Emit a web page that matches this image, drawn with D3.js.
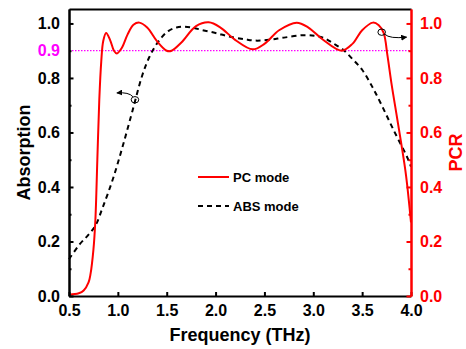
<!DOCTYPE html>
<html>
<head>
<meta charset="utf-8">
<script src="https://cdn.jsdelivr.net/npm/d3@7"></script>
<style>
body { margin: 0; background: #fff; }
text { font-family: "Liberation Sans", Arial, sans-serif; font-weight: bold; }
</style>
</head>
<body>
<script>
// PC mode (PCR, right axis)
var pcFreq = [0.5, 0.6, 0.65, 0.7, 0.72, 0.75, 0.77, 0.79, 0.81, 0.83, 0.85, 0.88, 0.92, 0.96, 0.99, 1.04, 1.1, 1.16, 1.22, 1.3, 1.4, 1.5, 1.55, 1.65, 1.8, 1.93, 2.05, 2.2, 2.38, 2.5, 2.65, 2.83, 2.95, 3.1, 3.29, 3.4, 3.5, 3.61, 3.67, 3.72, 3.76, 3.8, 3.85, 3.9, 3.95, 4.0];
var pcVal  = [0.005, 0.01, 0.02, 0.05, 0.08, 0.17, 0.28, 0.5, 0.72, 0.86, 0.935, 0.965, 0.94, 0.9, 0.89, 0.91, 0.96, 0.995, 1.003, 0.985, 0.935, 0.9, 0.9, 0.93, 0.99, 1.004, 0.985, 0.94, 0.905, 0.925, 0.975, 1.003, 0.985, 0.94, 0.9, 0.925, 0.975, 1.003, 0.993, 0.965, 0.88, 0.78, 0.67, 0.56, 0.44, 0.27];
// ABS mode (absorption, left axis)
var absFreq = [0.5, 0.61, 0.7, 0.77, 0.85, 0.95, 1.05, 1.15, 1.25, 1.32, 1.38, 1.45, 1.52, 1.6, 1.68, 1.78, 1.86, 2.0, 2.14, 2.3, 2.41, 2.55, 2.7, 2.9, 3.03, 3.12, 3.2, 3.3, 3.4, 3.5, 3.6, 3.7, 3.82, 3.96, 4.0];
var absVal  = [0.135, 0.19, 0.225, 0.258, 0.33, 0.43, 0.55, 0.68, 0.81, 0.875, 0.915, 0.95, 0.973, 0.985, 0.988, 0.983, 0.976, 0.965, 0.952, 0.942, 0.937, 0.94, 0.948, 0.957, 0.954, 0.945, 0.928, 0.905, 0.87, 0.83, 0.77, 0.70, 0.61, 0.51, 0.475];

var xTicks = [0.5, 1.0, 1.5, 2.0, 2.5, 3.0, 3.5, 4.0];
var yTicks = [0, 0.2, 0.4, 0.6, 0.8, 1.0];
var yMinor = [0.1, 0.3, 0.5, 0.7, 0.9];
var refLevel = 0.9;

var W = 466, H = 349;
var margin = {top: 9, right: 55, bottom: 53, left: 69};

var svg = d3.select("body").append("svg")
	.attr("width", W)
	.attr("height", H);

var x = d3.scaleLinear().domain([0.5, 4.0]).range([margin.left, W - margin.right]);
var y = d3.scaleLinear().domain([0, 1.053]).range([H - margin.bottom, margin.top]);

var red = "#ff0000";

// reference line at 0.9
svg.append("line")
	.attr("x1", x(0.5)).attr("x2", x(4.0))
	.attr("y1", y(refLevel)).attr("y2", y(refLevel))
	.attr("stroke", "#ff00ff")
	.attr("stroke-width", 1.2)
	.attr("stroke-dasharray", "1.5,1.5");

var line = d3.line()
	.x(function(d) { return x(d[0]); })
	.y(function(d) { return y(d[1]); })
	.curve(d3.curveCatmullRom.alpha(0.5));

svg.append("path")
	.datum(d3.zip(absFreq, absVal))
	.attr("fill", "none")
	.attr("stroke", "#000")
	.attr("stroke-width", 2)
	.attr("stroke-dasharray", "5,4")
	.attr("d", line);

svg.append("path")
	.datum(d3.zip(pcFreq, pcVal))
	.attr("fill", "none")
	.attr("stroke", red)
	.attr("stroke-width", 2)
	.attr("d", line);

// axes (ticks inside)
var gBottom = svg.append("g")
	.attr("transform", "translate(0," + (H - margin.bottom) + ")")
	.call(d3.axisBottom(x).tickValues(xTicks).tickSize(-4).tickSizeOuter(0).tickPadding(9).tickFormat(d3.format(".1f")));
var gTop = svg.append("g")
	.attr("transform", "translate(0," + margin.top + ")")
	.call(d3.axisTop(x).tickValues([]).tickSizeOuter(0));
var gLeft = svg.append("g")
	.attr("transform", "translate(" + margin.left + ",0)")
	.call(d3.axisLeft(y).tickValues(yTicks).tickSize(-4.5).tickSizeOuter(0).tickPadding(9).tickFormat(d3.format(".1f")));
var gLeftMinor = svg.append("g")
	.attr("transform", "translate(" + margin.left + ",0)")
	.call(d3.axisLeft(y).tickValues(yMinor).tickSize(-2.5).tickSizeOuter(0).tickFormat(""));
var gRight = svg.append("g")
	.attr("transform", "translate(" + (W - margin.right) + ",0)")
	.call(d3.axisRight(y).tickValues(yTicks).tickSize(-4.5).tickSizeOuter(0).tickPadding(9).tickFormat(d3.format(".1f")));
var gRightMinor = svg.append("g")
	.attr("transform", "translate(" + (W - margin.right) + ",0)")
	.call(d3.axisRight(y).tickValues(yMinor).tickSize(-2.5).tickSizeOuter(0).tickFormat(""));

[gBottom, gTop, gLeft, gLeftMinor].forEach(function(g) {
	g.attr("font-family", null).attr("font-size", null);
	g.selectAll("path, line").attr("stroke", "#000").attr("stroke-width", 2);
	g.selectAll("text").attr("fill", "#000").style("font-size", "16px");
});
[gRight, gRightMinor].forEach(function(g) {
	g.attr("font-family", null).attr("font-size", null);
	g.selectAll("path, line").attr("stroke", red).attr("stroke-width", 2);
	g.selectAll("text").attr("fill", red).style("font-size", "16px");
});

// magenta 0.9 label
svg.append("text")
	.attr("x", margin.left - 9)
	.attr("y", y(refLevel))
	.attr("dy", "0.36em")
	.attr("text-anchor", "end")
	.attr("fill", "#ff00ff")
	.style("font-size", "16px")
	.text("0.9");

// axis titles
svg.append("text")
	.attr("x", (margin.left + W - margin.right) / 2)
	.attr("y", 341)
	.attr("text-anchor", "middle")
	.style("font-size", "18px")
	.text("Frequency (THz)");

svg.append("text")
	.attr("transform", "translate(30," + ((margin.top + H - margin.bottom) / 2) + ") rotate(-90)")
	.attr("text-anchor", "middle")
	.style("font-size", "18px")
	.text("Absorption");

svg.append("text")
	.attr("transform", "translate(462," + ((margin.top + H - margin.bottom) / 2) + ") rotate(-90)")
	.attr("text-anchor", "middle")
	.attr("fill", red)
	.style("font-size", "18px")
	.text("PCR");

// legend
var legend = svg.append("g");
legend.append("line")
	.attr("x1", 198).attr("x2", 229).attr("y1", 177).attr("y2", 177)
	.attr("stroke", red).attr("stroke-width", 2);
legend.append("text")
	.attr("x", 233).attr("y", 181.5)
	.style("font-size", "13px")
	.text("PC mode");
legend.append("line")
	.attr("x1", 198).attr("x2", 229).attr("y1", 206).attr("y2", 206)
	.attr("stroke", "#000").attr("stroke-width", 2)
	.attr("stroke-dasharray", "5,4");
legend.append("text")
	.attr("x", 233).attr("y", 210.5)
	.style("font-size", "13px")
	.text("ABS mode");

// annotation circles + arrows
svg.append("defs").append("marker")
	.attr("id", "arr")
	.attr("viewBox", "0 0 10 10")
	.attr("refX", 9).attr("refY", 5)
	.attr("markerWidth", 6).attr("markerHeight", 6)
	.attr("orient", "auto")
	.append("path")
	.attr("d", "M0,0 L10,5 L0,10 Z")
	.attr("fill", "#000");

var annL = {cx: x(1.175), cy: y(0.72), ex: x(0.99), ey: y(0.745)};
svg.append("ellipse")
	.attr("cx", annL.cx).attr("cy", annL.cy).attr("rx", 3.8).attr("ry", 3.2)
	.attr("fill", "none").attr("stroke", "#000").attr("stroke-width", 1);
svg.append("path")
	.attr("d", "M" + (annL.cx - 2) + "," + (annL.cy - 3) + " Q" + (annL.cx - 6) + "," + (annL.ey - 1) + " " + annL.ex + "," + annL.ey)
	.attr("fill", "none").attr("stroke", "#000").attr("stroke-width", 1)
	.attr("marker-end", "url(#arr)");

var annR = {cx: x(3.70), cy: y(0.968), ex: x(3.955), ey: y(0.95)};
svg.append("ellipse")
	.attr("cx", annR.cx).attr("cy", annR.cy).attr("rx", 3.8).attr("ry", 3.2)
	.attr("fill", "none").attr("stroke", "#000").attr("stroke-width", 1);
svg.append("path")
	.attr("d", "M" + (annR.cx + 3) + "," + (annR.cy + 2) + " Q" + (annR.cx + 8) + "," + (annR.ey + 2) + " " + annR.ex + "," + annR.ey)
	.attr("fill", "none").attr("stroke", "#000").attr("stroke-width", 1)
	.attr("marker-end", "url(#arr)");
</script>
</body>
</html>
